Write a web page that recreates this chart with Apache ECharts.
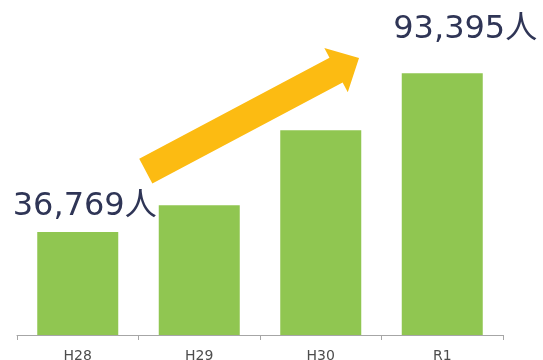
<!DOCTYPE html>
<html>
<head>
<meta charset="utf-8">
<script src="https://cdn.jsdelivr.net/npm/echarts@6/dist/echarts.min.js"></script>
<style>
  html, body { margin: 0; padding: 0; background: #ffffff; }
  #chart { width: 543px; height: 360px; }
</style>
</head>
<body>
<div id="chart"></div>
<script>
// Fiscal years and visitor counts
const categories = ['H28', 'H29', 'H30', 'R1'];
const visitors = [36769, 46300, 73100, 93395];
// Years whose bar carries a value callout
const calloutYears = ['H28', 'R1'];

// Growth arrow anchors: [fractional category position, value]
const arrowTail = [0.56, 58500];
const arrowTip = [2.315, 98900];

const BAR_COLOR = '#90c651';
const TEXT_COLOR = '#2f3556';
const ARROW_COLOR = '#fcbb12';

const calloutStyle = {
  H28: { offset: [7, -4], distance: 5 },
  R1: { offset: [23, -23], distance: 5 }
};

function formatCount(v) {
  return v.toLocaleString('en-US') + '人';
}

const chart = echarts.init(document.getElementById('chart'), null, { renderer: 'canvas' });

chart.setOption({
  animation: false,
  backgroundColor: '#ffffff',
  grid: {
    left: 17, right: 40, top: 10, bottom: 25,
    containLabel: false,
    outerBoundsMode: 'none'
  },
  xAxis: {
    type: 'category',
    data: categories,
    boundaryGap: true,
    axisLine: { show: true, lineStyle: { color: '#a6a6a6', width: 1 } },
    axisTick: { show: true, length: 5, lineStyle: { color: '#a6a6a6' } },
    axisLabel: {
      color: '#4d4d4d',
      fontSize: 14,
      fontFamily: "'DejaVu Sans', sans-serif",
      margin: 14
    }
  },
  yAxis: {
    type: 'value',
    min: 0,
    max: 116000,
    show: false,
    splitLine: { show: false }
  },
  series: [{
    type: 'bar',
    barWidth: 81,
    itemStyle: { color: BAR_COLOR },
    data: visitors.map((v, i) => {
      const cat = categories[i];
      const shown = calloutYears.includes(cat);
      return {
        value: v,
        label: shown ? {
          show: true,
          position: 'top',
          distance: calloutStyle[cat].distance,
          offset: calloutStyle[cat].offset,
          formatter: (p) => formatCount(p.value),
          color: TEXT_COLOR,
          fontSize: 32,
          fontFamily: "'DejaVu Sans', 'Noto Sans CJK JP', sans-serif"
        } : { show: false }
      };
    })
  }]
});

// Map a [fractional category, value] pair onto pixels using the axes
function toPixel(pt) {
  const i0 = Math.floor(pt[0]);
  const i1 = Math.min(i0 + 1, categories.length - 1);
  const t = pt[0] - i0;
  const a = chart.convertToPixel({ gridIndex: 0 }, [categories[i0], pt[1]]);
  const b = chart.convertToPixel({ gridIndex: 0 }, [categories[i1], pt[1]]);
  return [a[0] + (b[0] - a[0]) * t, a[1]];
}

// Block arrow showing the upward trend
function drawArrow() {
  const tail = toPixel(arrowTail);
  const tip = toPixel(arrowTip);
  const dx = tip[0] - tail[0];
  const dy = tip[1] - tail[1];
  const len = Math.sqrt(dx * dx + dy * dy);
  const ux = dx / len, uy = dy / len;
  const nx = -uy, ny = ux;
  const shaftHalf = 14, headHalf = 25, headLen = 26;
  const base = [tip[0] - ux * headLen, tip[1] - uy * headLen];
  const pts = [
    [tail[0] + nx * shaftHalf, tail[1] + ny * shaftHalf],
    [base[0] + nx * shaftHalf, base[1] + ny * shaftHalf],
    [base[0] + nx * headHalf, base[1] + ny * headHalf],
    tip,
    [base[0] - nx * headHalf, base[1] - ny * headHalf],
    [base[0] - nx * shaftHalf, base[1] - ny * shaftHalf],
    [tail[0] - nx * shaftHalf, tail[1] - ny * shaftHalf]
  ];
  chart.setOption({
    graphic: [{
      type: 'polygon',
      z: 10,
      shape: { points: pts },
      style: { fill: ARROW_COLOR }
    }]
  });
}
drawArrow();
</script>
</body>
</html>
